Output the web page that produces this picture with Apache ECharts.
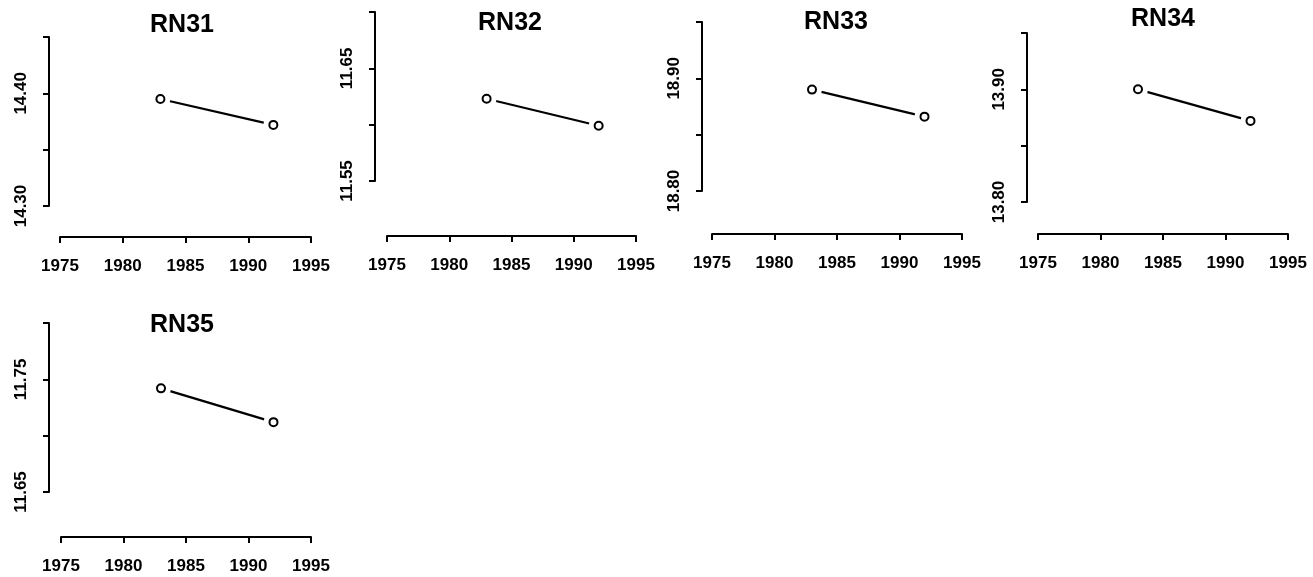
<!DOCTYPE html>
<html>
<head>
<meta charset="utf-8">
<script src="https://cdn.jsdelivr.net/npm/echarts@6/dist/echarts.min.js"></script>
<style>
  html, body { margin: 0; padding: 0; background: #fff; }
  #chart { width: 1313px; height: 577px; }
</style>
</head>
<body>
<div id="chart"></div>
<script>
// data
const years = [1983, 1992];
const panelNames = ['RN31', 'RN32', 'RN33', 'RN34', 'RN35'];
const rn31 = [14.395, 14.372];
const rn32 = [11.623, 11.599];
const rn33 = [18.890, 18.866];
const rn34 = [13.900, 13.872];
const rn35 = [11.742, 11.712];
const panelValues = [rn31, rn32, rn33, rn34, rn35];
// y axis: lowest tick of each panel, step 0.05, 4 ticks, labels on every other one
const yMins = [14.30, 11.55, 18.80, 13.80, 11.65];
const yStep = 0.05;
const yTickCount = 4;
// x axis ticks
const xMin = 1975;
const xMax = 1995;
const xStep = 5;

// panel geometry (pixels): y axis x, plot top/bottom, x of 1975/1995, x axis y, title centre
const layout = [
  { yAxisX: 49,   top: 37,  bottom: 206, xLeft: 60,   xRight: 311,  xAxisY: 237, tx: 182,  ty: 26 },
  { yAxisX: 375,  top: 12,  bottom: 181, xLeft: 387,  xRight: 636,  xAxisY: 236, tx: 510,  ty: 24 },
  { yAxisX: 702,  top: 22,  bottom: 191, xLeft: 712,  xRight: 962,  xAxisY: 234, tx: 836,  ty: 23 },
  { yAxisX: 1027, top: 33,  bottom: 202, xLeft: 1038, xRight: 1288, xAxisY: 234, tx: 1163, ty: 20 },
  { yAxisX: 49,   top: 323, bottom: 492, xLeft: 61,   xRight: 311,  xAxisY: 537, tx: 182,  ty: 326 }
];

const FONT = "'Liberation Sans', Arial, Helvetica, sans-serif";
const black = '#000';

const chart = echarts.init(document.getElementById('chart'));

const grid = [], xAxis = [], yAxis = [], series = [], title = [];

layout.forEach((p, i) => {
  grid.push({
    left: p.xLeft,
    top: p.top,
    width: p.xRight - p.xLeft,
    height: p.bottom - p.top,
    containLabel: false
  });
  xAxis.push({
    type: 'value',
    gridIndex: i,
    min: xMin,
    max: xMax,
    interval: xStep,
    offset: p.xAxisY - p.bottom,
    axisLine: { show: true, onZero: false, lineStyle: { color: black, width: 2 } },
    axisTick: { show: true, length: 6, lineStyle: { color: black, width: 2 } },
    splitLine: { show: false },
    axisLabel: {
      color: black,
      fontFamily: FONT,
      fontSize: 17,
      fontWeight: 'bold',
      margin: 21,
      formatter: (v) => String(v)
    }
  });
  const mn = yMins[i];
  yAxis.push({
    type: 'value',
    gridIndex: i,
    min: mn,
    max: +(mn + yStep * (yTickCount - 1)).toFixed(2),
    interval: yStep,
    offset: p.xLeft - p.yAxisX,
    axisLine: { show: true, onZero: false, lineStyle: { color: black, width: 2 } },
    axisTick: { show: true, length: 6, lineStyle: { color: black, width: 2 } },
    splitLine: { show: false },
    axisLabel: {
      color: black,
      fontFamily: FONT,
      fontSize: 17,
      fontWeight: 'bold',
      rotate: 90,
      margin: 19,
      formatter: (v) => (Math.round((v - mn) / yStep) % 2 === 0 ? v.toFixed(2) : '')
    }
  });
  title.push({
    text: panelNames[i],
    left: p.tx,
    top: p.ty - 13,
    padding: 0,
    textAlign: 'center',
    textStyle: { color: black, fontFamily: FONT, fontSize: 25, fontWeight: 'bold' }
  });
  const pts = years.map((y, k) => [y, panelValues[i][k]]);
  // line with white masks round the points (gap like type="b")
  series.push({
    type: 'line',
    xAxisIndex: i,
    yAxisIndex: i,
    data: pts,
    symbol: 'circle',
    symbolSize: 20,
    itemStyle: { color: '#fff', borderWidth: 0 },
    lineStyle: { color: black, width: 2.2 },
    silent: true,
    z: 2
  });
  series.push({
    type: 'scatter',
    xAxisIndex: i,
    yAxisIndex: i,
    data: pts,
    symbol: 'emptyCircle',
    symbolSize: 8,
    itemStyle: { color: black, borderColor: black, borderWidth: 2.2, opacity: 1 },
    z: 5
  });
});

chart.setOption({
  animation: false,
  backgroundColor: '#fff',
  title: title,
  grid: grid,
  xAxis: xAxis,
  yAxis: yAxis,
  series: series
});
</script>
</body>
</html>
